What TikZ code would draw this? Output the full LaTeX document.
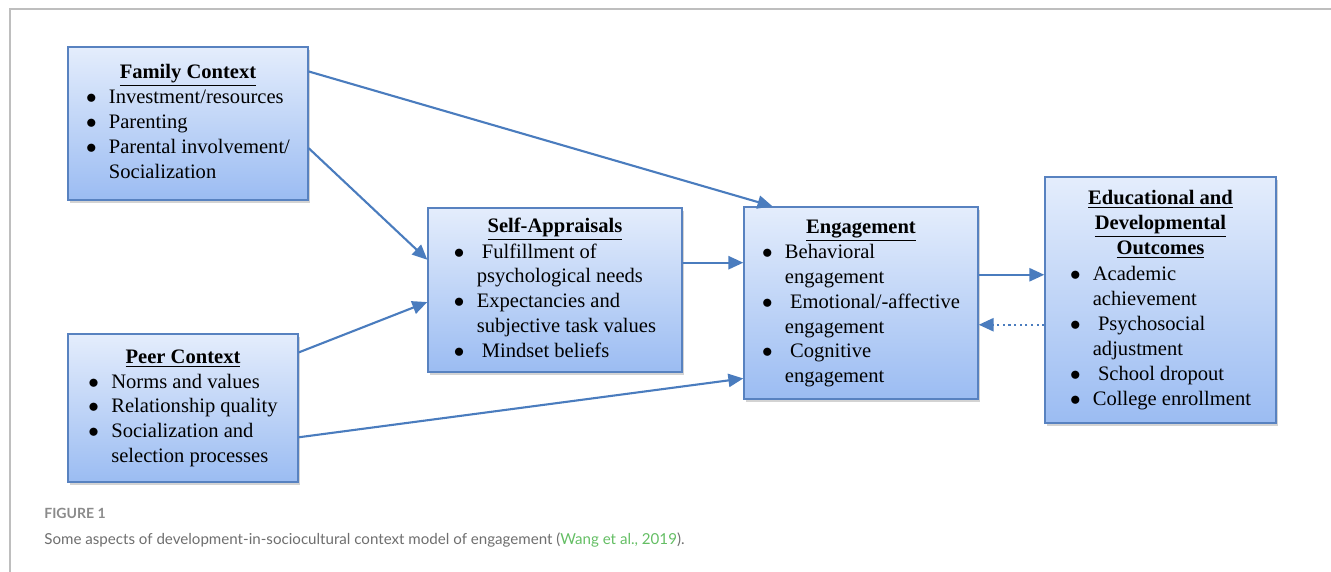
\documentclass[tikz,border=0pt]{standalone}
\usepackage{fontspec}
\setmainfont{Liberation Serif}
\newfontfamily\legfont{Lato}
\usetikzlibrary{arrows.meta,calc,shadows}
\definecolor{caixatopo}{RGB}{228,237,252}
\definecolor{caixabase}{RGB}{155,188,242}
\definecolor{borda}{RGB}{88,130,192}
\definecolor{seta}{RGB}{74,124,190}
\definecolor{moldura}{RGB}{190,190,190}
\definecolor{legcinza}{RGB}{110,110,110}
\definecolor{legverde}{RGB}{100,190,100}
\newcommand{\ponto}{$\bullet$}

\begin{document}
\begin{tikzpicture}[>={Triangle[length=8.5pt,width=7.5pt]},
    caixa/.style={draw=borda, line width=0.8pt, top color=caixatopo, bottom color=caixabase,
      inner sep=0pt, drop shadow={shadow xshift=1pt, shadow yshift=-1.5pt, opacity=0.35},
      font=\fontsize{11.7}{14.1}\selectfont},
    ligacao/.style={seta, line width=1.2pt, ->},
    legenda/.style={anchor=west, inner sep=0pt, text=legcinza, font=\legfont\fontsize{8.6}{10}\selectfont}]
  \useasboundingbox (0,0) rectangle (26.62,-11.44);

  % Moldura
  \draw[moldura, line width=1pt] (0.2,-11.44) -- (0.2,-0.174) -- (26.62,-0.174);

  % Caixas
  \node[caixa, minimum width=4.8cm, minimum height=3.06cm] (familia) at (3.76,-2.47) {%
    \begin{tabular}{@{}c@{\hspace{7pt}}l@{}}
      \multicolumn{2}{c}{\underline{\textbf{Family Context}}}\\
      \ponto & Investment/resources\\
      \ponto & Parenting\\
      \ponto & Parental involvement/\\
             & Socialization
    \end{tabular}};
  \node[caixa, minimum width=4.6cm, minimum height=2.96cm] (pares) at (3.66,-8.16) {%
    \begin{tabular}{@{}c@{\hspace{7pt}}l@{}}
      \multicolumn{2}{c}{\underline{\textbf{Peer Context}}}\\
      \ponto & Norms and values\\
      \ponto & Relationship quality\\
      \ponto & Socialization and\\
             & selection processes
    \end{tabular}};
  \node[caixa, minimum width=5.08cm, minimum height=3.28cm] (autoav) at (11.10,-5.80) {%
    \begin{tabular}{@{}c@{\hspace{7pt}}l@{}}
      \multicolumn{2}{c}{\underline{\textbf{Self-Appraisals}}}\\
      \ponto & \ Fulfillment of\\
             & psychological needs\\
      \ponto & Expectancies and\\
             & subjective task values\\
      \ponto & \ Mindset beliefs
    \end{tabular}};
  \node[caixa, minimum width=4.68cm, minimum height=3.84cm] (engaj) at (17.22,-6.06) {%
    \begin{tabular}{@{}c@{\hspace{7pt}}l@{}}
      \multicolumn{2}{c}{\underline{\textbf{Engagement}}}\\
      \ponto & Behavioral\\
             & engagement\\
      \ponto & \ Emotional/-affective\\
             & engagement\\
      \ponto & \ Cognitive\\
             & engagement
    \end{tabular}};
  \node[caixa, minimum width=4.62cm, minimum height=4.92cm, font=\fontsize{11.7}{14.3}\selectfont] (result) at (23.21,-6.00) {%
    \begin{tabular}{@{}c@{\hspace{7pt}}l@{}}
      \multicolumn{2}{c}{\underline{\textbf{Educational and}}}\\
      \multicolumn{2}{c}{\underline{\textbf{Developmental}}}\\
      \multicolumn{2}{c}{\underline{\textbf{Outcomes}}}\\
      \ponto & Academic\\
             & achievement\\
      \ponto & \ Psychosocial\\
             & adjustment\\
      \ponto & \ School dropout\\
      \ponto & College enrollment
    \end{tabular}};

  % Setas
  \draw[ligacao] ($(familia.north east)!0.163!(familia.south east)$) -- ($(engaj.north west)!0.124!(engaj.north east)$);
  \draw[ligacao] ($(familia.north east)!0.66!(familia.south east)$) -- ($(autoav.north west)!0.317!(autoav.south west)$);
  \draw[ligacao] ($(pares.north east)!0.128!(pares.south east)$) -- ($(autoav.north west)!0.573!(autoav.south west)$);
  \draw[ligacao] ($(pares.north east)!0.696!(pares.south east)$) -- ($(engaj.north west)!0.89!(engaj.south west)$);
  \coordinate (s1) at ($(autoav.north east)!0.335!(autoav.south east)$);
  \draw[ligacao] (s1) -- (s1 -| engaj.west);
  \coordinate (s2) at ($(engaj.north east)!0.354!(engaj.south east)$);
  \draw[ligacao] (s2) -- (s2 -| result.west);
  \coordinate (s3) at ($(result.north west)!0.6!(result.south west)$);
  \draw[ligacao, dotted] (s3) -- (s3 -| engaj.east);

  % Legenda
  \node[legenda, font=\legfont\bfseries\fontsize{8}{10}\selectfont, text=legcinza!80] (fig) at (0.88,-10.26) {FIGURE 1};
  \node[legenda] (leg) at (0.88,-10.80) {Some aspects of development-in-sociocultural context model of engagement (\textcolor{legverde}{Wang et al., 2019}).};
\end{tikzpicture}
\end{document}
